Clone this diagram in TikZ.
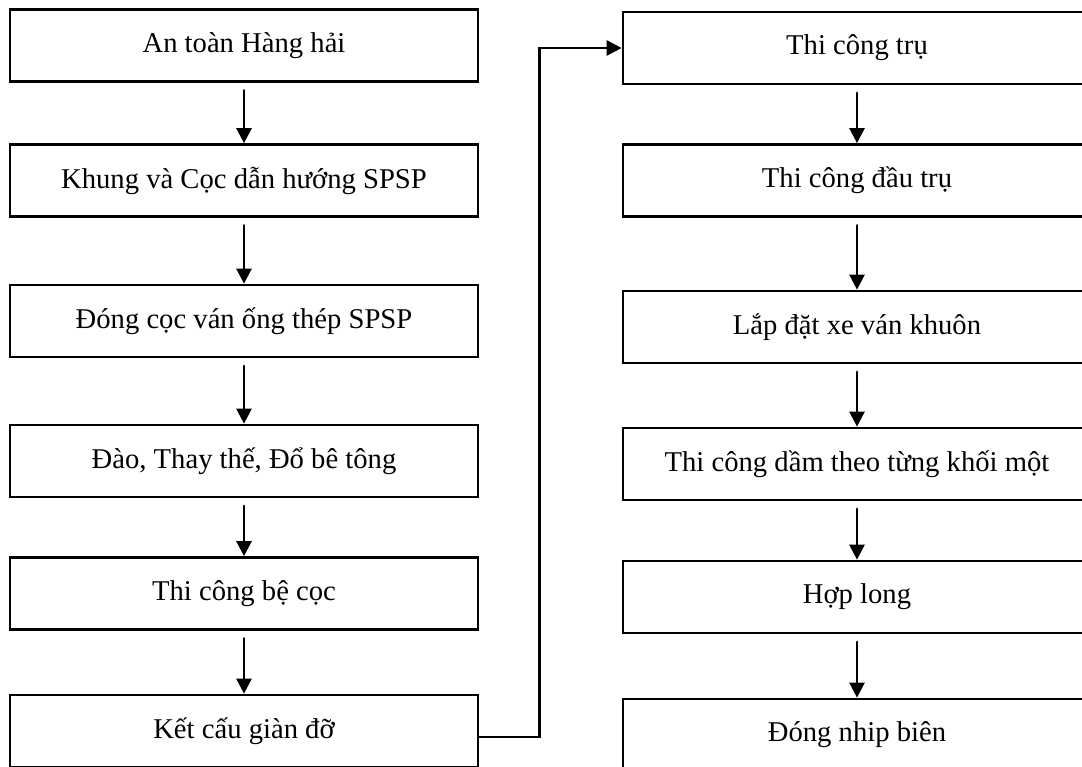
\documentclass[tikz,border=0pt]{standalone}
\usepackage{fontspec}
\setmainfont{Liberation Serif}
\usepackage{tikz}
\usetikzlibrary{arrows.meta}

\begin{document}
\begin{tikzpicture}[scale=1.0,line cap=round,
    stepbox/.style={draw=black,line width=1.5pt,minimum width=9.36cm,minimum height=1.44cm,
      inner sep=0pt,font=\fontsize{16.3}{18}\selectfont},
    flow/.style={line width=1.4pt,-{Triangle[length=0.3cm,width=0.3cm]},shorten <=1.5mm}]
  \useasboundingbox (0,0) rectangle (21.64,-15.34);
  \clip (0,0) rectangle (21.64,-15.34);

  % --- left column: foundation works ---
  \node[stepbox] (l1) at (4.88,-0.91) {An toàn Hàng hải};
  \node[stepbox] (l2) at (4.88,-3.61) {Khung và Cọc dẫn hướng SPSP};
  \node[stepbox] (l3) at (4.88,-6.42) {Đóng cọc ván ống thép SPSP};
  \node[stepbox] (l4) at (4.88,-9.22) {Đào, Thay thế, Đổ bê tông};
  \node[stepbox] (l5) at (4.88,-11.87) {Thi công bệ cọc};
  \node[stepbox] (l6) at (4.88,-14.62) {Kết cấu giàn đỡ};

  % --- right column: pier and girder works ---
  \node[stepbox] (r1) at (17.14,-0.96) {Thi công trụ};
  \node[stepbox] (r2) at (17.14,-3.61) {Thi công đầu trụ};
  \node[stepbox] (r3) at (17.14,-6.54) {Lắp đặt xe ván khuôn};
  \node[stepbox] (r4) at (17.14,-9.28) {Thi công dầm theo từng khối một};
  \node[stepbox] (r5) at (17.14,-11.94) {Hợp long};
  \node[stepbox] (r6) at (17.14,-14.70) {Đóng nhip biên};

  % arrows down each column
  \draw[flow] (l1) -- (l2);
  \draw[flow] (l2) -- (l3);
  \draw[flow] (l3) -- (l4);
  \draw[flow] (l4) -- (l5);
  \draw[flow] (l5) -- (l6);

  \draw[flow] (r1) -- (r2);
  \draw[flow] (r2) -- (r3);
  \draw[flow] (r3) -- (r4);
  \draw[flow] (r4) -- (r5);
  \draw[flow] (r5) -- (r6);

  % link from the bottom of the left column to the top of the right one
  \draw[flow,shorten <=0pt,line cap=butt] ([yshift=-0.12cm]l6.east) -- ++(1.2,0) |- (r1.west);
\end{tikzpicture}
\end{document}
